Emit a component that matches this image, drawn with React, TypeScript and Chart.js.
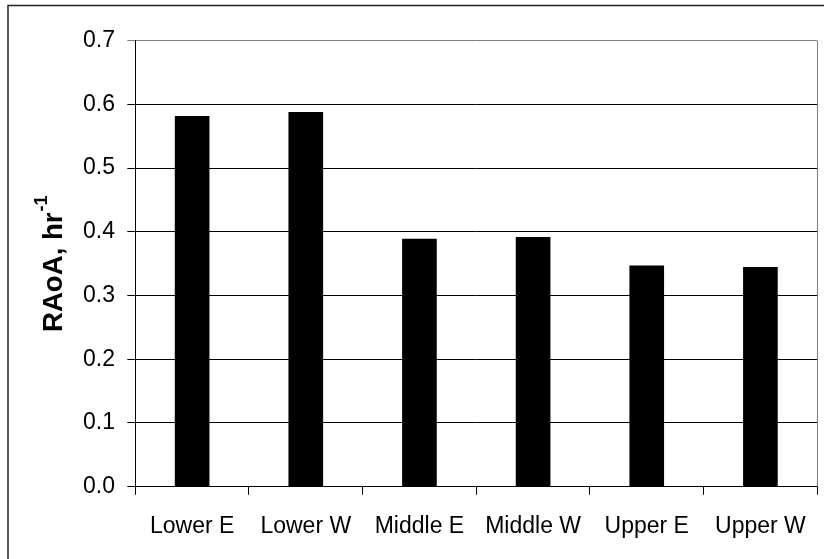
import React, { useEffect, useRef } from "react";
import { Chart, registerables } from "chart.js";

Chart.register(...registerables);

const categories = ["Lower E", "Lower W", "Middle E", "Middle W", "Upper E", "Upper W"];
const raoaValues = [0.582, 0.588, 0.389, 0.392, 0.347, 0.345];
const yMin = 0;
const yMax = 0.7;
const yStep = 0.1;
const yTitleMain = "RAoA, hr";
const yTitleSup = "-1";

const framePlugin = {
  id: "framePlugin",
  afterDraw(chart: any) {
    const { ctx, chartArea } = chart;
    ctx.save();
    // outer chart frame (cropped on right/bottom)
    ctx.strokeStyle = "#222";
    ctx.lineWidth = 1.5;
    ctx.beginPath();
    ctx.moveTo(8, chart.height + 2);
    ctx.lineTo(8, 5.5);
    ctx.lineTo(chart.width + 2, 5.5);
    ctx.stroke();
    // plot area right border
    ctx.strokeStyle = "#808080";
    ctx.lineWidth = 1;
    ctx.beginPath();
    ctx.moveTo(Math.round(chartArea.right) + 0.5, chartArea.top);
    ctx.lineTo(Math.round(chartArea.right) + 0.5, chartArea.bottom);
    ctx.stroke();
    // y-axis title with superscript
    const mainFont = "bold 27.6px 'Liberation Sans', Arial, sans-serif";
    const supFont = "bold 18px 'Liberation Sans', Arial, sans-serif";
    ctx.font = mainFont;
    const wMain = ctx.measureText(yTitleMain).width;
    ctx.font = supFont;
    const wSup = ctx.measureText(yTitleSup).width;
    const total = wMain + 1 + wSup;
    const centerY = (chartArea.top + chartArea.bottom) / 2;
    ctx.translate(62.3, centerY + total / 2);
    ctx.rotate(-Math.PI / 2);
    ctx.fillStyle = "#000";
    ctx.textAlign = "left";
    ctx.textBaseline = "alphabetic";
    ctx.font = mainFont;
    ctx.fillText(yTitleMain, 0, 0);
    ctx.font = supFont;
    ctx.fillText(yTitleSup, wMain + 1, -15);
    ctx.restore();
  },
};

export default function App() {
  const canvasRef = useRef<HTMLCanvasElement | null>(null);

  useEffect(() => {
    if (!canvasRef.current) return;
    const tickFont = { family: "'Liberation Sans', Arial, sans-serif", size: 23 };
    const chart = new Chart(canvasRef.current, {
      type: "bar",
      data: {
        labels: categories,
        datasets: [
          {
            data: raoaValues,
            backgroundColor: "#000",
            borderWidth: 0,
            categoryPercentage: 1,
            barPercentage: 0.305,
          },
        ],
      },
      plugins: [framePlugin],
      options: {
        responsive: false,
        animation: false,
        devicePixelRatio: 1,
        layout: { padding: { top: 40.7, right: 2.7, left: 0, bottom: 0 } },
        plugins: {
          legend: { display: false },
          tooltip: { enabled: false },
          title: { display: false },
        },
        scales: {
          x: {
            type: "category",
            offset: true,
            grid: {
              offset: true,
              drawOnChartArea: false,
              drawTicks: true,
              tickLength: 8,
              color: "#000",
            },
            border: { display: true, color: "#000", width: 1 },
            ticks: {
              color: "#000",
              font: tickFont,
              padding: 18,
              maxRotation: 0,
              autoSkip: false,
            },
            afterFit(scale: any) {
              scale.height = 72.3;
            },
          },
          y: {
            type: "linear",
            min: yMin,
            max: yMax,
            grid: {
              drawTicks: true,
              tickLength: 8,
              color: (c: any) => (c.tick && Math.abs(c.tick.value - yMax) < 1e-9 ? "#808080" : "#000"),
            },
            border: { display: true, color: "#000", width: 1 },
            ticks: {
              stepSize: yStep,
              color: "#000",
              font: tickFont,
              padding: 12.3,
              callback: (v: any) => Number(v).toFixed(1),
            },
            afterFit(scale: any) {
              scale.width = 135.3;
            },
          },
        },
      },
    });
    return () => chart.destroy();
  }, []);

  return (
    <div style={{ position: "absolute", left: 0, top: 0, width: 824, height: 559, background: "#fff" }}>
      <canvas ref={canvasRef} width={824} height={559} style={{ display: "block" }} />
    </div>
  );
}
